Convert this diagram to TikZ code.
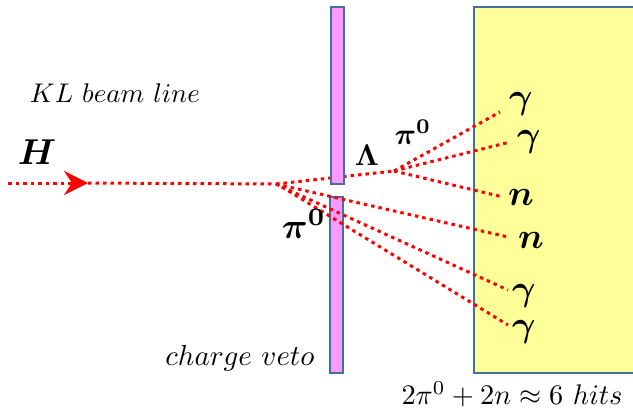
\documentclass[tikz,border=0pt]{standalone}
\usepackage{amsmath,bm}
\usetikzlibrary{arrows.meta}
\definecolor{vetofill}{HTML}{FF99FF}
\definecolor{edgeblue}{HTML}{41719C}
\definecolor{calfill}{HTML}{FFFF99}
\tikzset{
  track/.style={draw=red, line width=3pt, dash pattern=on 3.5pt off 4pt},
  veto/.style={fill=vetofill, draw=edgeblue, line width=1.3pt},
  cal/.style={fill=calfill, draw=edgeblue, line width=1.3pt},
  big/.style={scale=3.6, inner sep=0pt},
  mid/.style={scale=3.0, inner sep=0pt},
  txt/.style={scale=2.7, inner sep=0pt},
}
\begin{document}
\begin{tikzpicture}[x=1pt,y=-1pt]
\useasboundingbox (0,0) rectangle (633,410);
% calorimeter
\draw[cal] (474,7) rectangle (640,373);
% coordinates
\coordinate (src) at (8,183);
\coordinate (tip) at (88,183);
\coordinate (V) at (276,184);
\coordinate (L) at (394,171);
\coordinate (P) at (282,187);
\coordinate (g1) at (500,112);
\coordinate (g2) at (510,142);
\coordinate (n1) at (503,197);
\coordinate (n2) at (508,237);
\coordinate (g3) at (508,290);
\coordinate (g4) at (508,325);
% Lambda track (behind the upper bar)
\draw[track] (V) -- (L);
% charge veto bars
\draw[veto] (331,7) rectangle (344,184);
\draw[veto] (330,197) rectangle (343,373);
% beam
\draw[track, -{Stealth[length=24pt,width=24pt,inset=8pt]}] (src) -- (tip);
\draw[track] (tip) -- (V);
% decay products
\draw[track] (L) -- (g1);
\draw[track] (L) -- (g2);
\draw[track] (L) -- (n1);
\draw[track] (V) -- (n2);
\draw[track] (V) -- (P);
\draw[track] (P) -- (g3);
\draw[track] (P) -- (g4);
% labels
\node[txt] (kl) at (115,93) {$KL\ beam\ line$};
\node[big] (H) at (37,152) {$\bm{H}$};
\node[mid] (lam) at (367,155) {$\bm{\Lambda}$};
\node[mid] (pi1) at (413,132) {$\bm{\pi}^{\bm{0}}$};
\node[big] (pi2) at (304,224) {$\bm{\pi}^{\bm{0}}$};
\node[big] (lg1) at (521,104) {$\bm{\gamma}$};
\node[big] (lg2) at (529,142) {$\bm{\gamma}$};
\node[big] (ln1) at (521,197) {$\bm{n}$};
\node[big] (ln2) at (531,240) {$\bm{n}$};
\node[big] (lg3) at (524,296) {$\bm{\gamma}$};
\node[big] (lg4) at (524,332) {$\bm{\gamma}$};
\node[txt, scale=1.07] (cv) at (240,358) {$charge\ veto$};
\node[txt, scale=1.05] (sum) at (512,394) {$2\pi^0+2n\approx 6\ hits$};
\end{tikzpicture}
\end{document}
